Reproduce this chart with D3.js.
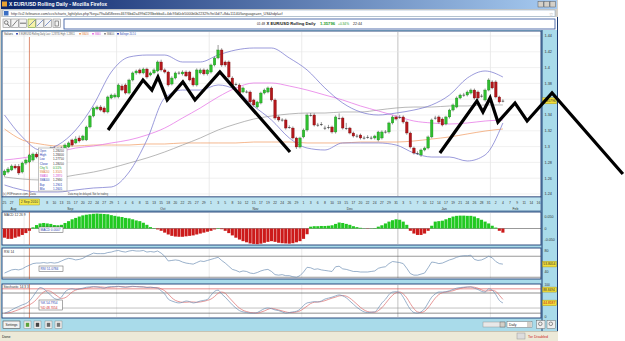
<!DOCTYPE html>
<html>
<head>
<meta charset="utf-8">
<script src="https://cdn.jsdelivr.net/npm/d3@7"></script>
<style>
body{margin:0;background:#fff;overflow:hidden}
svg{display:block;font-family:"Liberation Sans",Arial,sans-serif}
</style>
</head>
<body>
<svg id="chart" width="625" height="341"></svg>
<script>
// ---- data ----
// one candle per trading slot (Sunday sessions included), starting 25 Aug 2010
const candles = [ // [open, high, low, close]
[1.2641,1.2710,1.2620,1.2691],[1.2678,1.2740,1.2660,1.2716],[1.2704,1.2775,1.2690,1.2754],[1.2754,1.2780,1.2710,1.2729],
[1.2750,1.2780,1.2640,1.2666],[1.2678,1.2810,1.2660,1.2792],[1.2792,1.2850,1.2770,1.2830],[1.2805,1.2910,1.2790,1.2894],
[1.2830,1.2925,1.2810,1.2906],[1.2906,1.2930,1.2850,1.2868],[1.2881,1.2950,1.2860,1.2932],[1.2932,1.2955,1.2875,1.2894],
[1.2919,1.2975,1.2900,1.2957],[1.2945,1.3000,1.2930,1.2982],[1.2982,1.3000,1.2915,1.2932],[1.2945,1.2990,1.2930,1.2970],
[1.2982,1.3000,1.2940,1.2957],[1.2982,1.3040,1.2965,1.3020],[1.2995,1.3065,1.2980,1.3046],[1.3084,1.3100,1.3000,1.3020],
[1.3046,1.3130,1.3030,1.3096],[1.3109,1.3140,1.3050,1.3071],[1.3084,1.3150,1.3070,1.3134],[1.3084,1.3265,1.3070,1.3248],
[1.3248,1.3400,1.3230,1.3387],[1.3387,1.3505,1.3370,1.3489],[1.3476,1.3520,1.3460,1.3501],[1.3501,1.3525,1.3445,1.3463],
[1.3489,1.3510,1.3420,1.3438],[1.3438,1.3645,1.3420,1.3628],[1.3615,1.3670,1.3600,1.3653],[1.3628,1.3675,1.3610,1.3653],
[1.3628,1.3800,1.3610,1.3780],[1.3767,1.3790,1.3700,1.3716],[1.3780,1.3800,1.3660,1.3678],[1.3678,1.3860,1.3660,1.3843],
[1.3843,1.3950,1.3825,1.3932],[1.3932,1.3975,1.3910,1.3957],[1.3970,1.3990,1.3915,1.3932],[1.3932,1.4000,1.3915,1.3982],
[1.3982,1.4000,1.3860,1.3881],[1.3906,1.3950,1.3890,1.3932],[1.3932,1.3990,1.3915,1.3970],[1.3957,1.4090,1.3940,1.4071],
[1.4071,1.4100,1.3950,1.3970],[1.3970,1.3990,1.3925,1.3944],[1.3944,1.3960,1.3760,1.3780],[1.3792,1.3890,1.3775,1.3868],
[1.3868,1.3950,1.3850,1.3932],[1.3932,1.3955,1.3910,1.3935],[1.3920,1.3965,1.3900,1.3944],[1.3944,1.3965,1.3880,1.3894],
[1.3944,1.3960,1.3825,1.3843],[1.3868,1.3885,1.3760,1.3780],[1.3780,1.3990,1.3760,1.3970],[1.3932,1.3990,1.3915,1.3970],
[1.3970,1.3990,1.3900,1.3920],[1.3920,1.3985,1.3900,1.3970],[1.3944,1.4050,1.3925,1.4033],[1.4033,1.4140,1.4015,1.4122],
[1.4122,1.4286,1.4105,1.4223],[1.4223,1.4245,1.4010,1.4033],[1.4071,1.4090,1.4010,1.4033],[1.4071,1.4090,1.3860,1.3881],
[1.3868,1.3890,1.3760,1.3780],[1.3792,1.3810,1.3770,1.3788],[1.3780,1.3800,1.3660,1.3678],[1.3691,1.3760,1.3675,1.3742],
[1.3691,1.3715,1.3675,1.3695],[1.3691,1.3710,1.3545,1.3565],[1.3590,1.3605,1.3505,1.3527],[1.3501,1.3580,1.3485,1.3565],
[1.3552,1.3695,1.3535,1.3678],[1.3678,1.3735,1.3660,1.3716],[1.3691,1.3760,1.3675,1.3742],[1.3742,1.3760,1.3570,1.3590],
[1.3590,1.3610,1.3340,1.3362],[1.3375,1.3395,1.3315,1.3337],[1.3337,1.3360,1.3315,1.3340],[1.3337,1.3355,1.3215,1.3235],
[1.3248,1.3270,1.3225,1.3245],[1.3235,1.3255,1.3090,1.3109],[1.3109,1.3125,1.2970,1.2995],[1.2995,1.3125,1.2975,1.3109],
[1.3122,1.3230,1.3105,1.3210],[1.3210,1.3420,1.3190,1.3400],[1.3400,1.3425,1.3380,1.3397],[1.3400,1.3420,1.3255,1.3273],
[1.3273,1.3300,1.3250,1.3276],[1.3286,1.3310,1.3260,1.3283],[1.3235,1.3265,1.3210,1.3238],[1.3248,1.3275,1.3220,1.3245],
[1.3248,1.3265,1.3165,1.3185],[1.3185,1.3395,1.3165,1.3375],[1.3362,1.3420,1.3340,1.3360],[1.3362,1.3380,1.3215,1.3235],
[1.3235,1.3300,1.3210,1.3232],[1.3235,1.3250,1.3155,1.3172],[1.3172,1.3190,1.3115,1.3134],[1.3134,1.3160,1.3110,1.3137],
[1.3147,1.3165,1.3090,1.3109],[1.3109,1.3135,1.3090,1.3112],[1.3122,1.3145,1.3100,1.3119],[1.3109,1.3135,1.3090,1.3112],
[1.3109,1.3150,1.3090,1.3134],[1.3084,1.3200,1.3065,1.3185],[1.3109,1.3205,1.3090,1.3185],[1.3185,1.3210,1.3165,1.3188],
[1.3185,1.3315,1.3165,1.3299],[1.3299,1.3395,1.3280,1.3375],[1.3375,1.3395,1.3330,1.3349],[1.3375,1.3400,1.3350,1.3372],
[1.3375,1.3395,1.3290,1.3311],[1.3311,1.3330,1.3150,1.3172],[1.3172,1.3190,1.2975,1.2995],[1.2982,1.3000,1.2900,1.2919],
[1.2919,1.2940,1.2895,1.2916],[1.2894,1.2975,1.2870,1.2957],[1.2957,1.3000,1.2940,1.2982],[1.2982,1.3140,1.2965,1.3122],
[1.3122,1.3355,1.3105,1.3337],[1.3362,1.3390,1.3340,1.3365],[1.3375,1.3395,1.3290,1.3311],[1.3349,1.3370,1.3255,1.3273],
[1.3286,1.3390,1.3270,1.3375],[1.3375,1.3480,1.3355,1.3463],[1.3463,1.3545,1.3445,1.3527],[1.3501,1.3635,1.3485,1.3615],
[1.3615,1.3670,1.3600,1.3653],[1.3653,1.3680,1.3630,1.3656],[1.3653,1.3710,1.3635,1.3691],[1.3678,1.3735,1.3660,1.3716],
[1.3716,1.3735,1.3595,1.3615],[1.3691,1.3710,1.3595,1.3615],[1.3640,1.3665,1.3620,1.3643],[1.3590,1.3735,1.3570,1.3716],
[1.3716,1.3865,1.3700,1.3843],[1.3818,1.3840,1.3725,1.3742],[1.3818,1.3840,1.3610,1.3628],[1.3628,1.3645,1.3545,1.3565],
[1.3577,1.3600,1.3560,1.3580]
];

// overlays sampled every 5 slots
const overlaySlots = [0,5,10,15,20,25,30,35,40,45,50,55,60,65,70,75,80,85,90,95,100,105,110,115,120,125,130,135,140];
const bbUpper = [1.3400,1.3122,1.2957,1.3020,1.3210,1.3527,1.3944,1.4134,1.4159,1.4159,1.4071,1.4071,1.4159,1.4223,1.4248,1.4248,1.4122,1.3970,1.3742,1.3552,1.3438,1.3400,1.3425,1.3463,1.3527,1.3653,1.3868,1.3957,1.3881];
const bbLower = [1.2514,1.2451,1.2425,1.2425,1.2451,1.2476,1.2489,1.2678,1.3084,1.3615,1.3716,1.3716,1.3780,1.3716,1.3514,1.3337,1.3109,1.2982,1.2957,1.3046,1.3046,1.3046,1.3020,1.2919,1.2868,1.2868,1.2818,1.2894,1.3299];
const sma50  = [1.2830,1.2856,1.2894,1.2932,1.2982,1.3008,1.3046,1.3084,1.3147,1.3235,1.3362,1.3489,1.3628,1.3742,1.3805,1.3805,1.3767,1.3716,1.3653,1.3590,1.3514,1.3451,1.3387,1.3324,1.3299,1.3286,1.3299,1.3324,1.3337];
const sma100 = [1.2615,1.2590,1.2577,1.2603,1.2641,1.2678,1.2729,1.2792,1.2856,1.2932,1.3020,1.3109,1.3210,1.3286,1.3349,1.3387,1.3413,1.3425,1.3425,1.3438,1.3438,1.3463,1.3489,1.3501,1.3501,1.3514,1.3514,1.3527,1.3527];
const sma200 = [1.3223,1.3084,1.3033,1.3008,1.3008,1.3020,1.3020,1.3020,1.3033,1.3033,1.3046,1.3046,1.3046,1.3046,1.3058,1.3058,1.3058,1.3046,1.3046,1.3046,1.3058,1.3058,1.3058,1.3071,1.3096,1.3122,1.3160,1.3197,1.3223];

// MACD histogram, one per slot
const macdHist = [-0.040,-0.045,-0.045,-0.040,-0.035,-0.028,-0.020,-0.010,0.005,0.015,0.022,0.024,0.022,0.020,0.015,0.014,0.016,0.024,0.032,0.040,
0.046,0.052,0.057,0.060,0.062,0.064,0.065,0.064,0.063,0.062,0.058,0.055,0.052,0.050,0.046,0.044,0.040,0.035,0.032,0.025,
0.016,0.006,0.002,-0.004,-0.010,-0.018,-0.026,-0.032,-0.035,-0.036,-0.036,-0.034,-0.032,-0.030,-0.026,-0.022,-0.018,-0.014,-0.010,-0.004,
0.002,-0.003,-0.010,-0.020,-0.030,-0.040,-0.048,-0.055,-0.060,-0.065,-0.067,-0.068,-0.066,-0.062,-0.058,-0.055,-0.058,-0.062,-0.064,-0.065,
-0.066,-0.064,-0.060,-0.055,-0.045,-0.025,0.008,0.010,0.010,0.011,0.011,0.012,0.014,0.020,0.026,0.024,0.020,0.016,0.010,0.006,
0.003,0.001,-0.001,0.001,0.002,0.008,0.014,0.022,0.030,0.036,0.040,0.038,0.030,0.016,-0.010,-0.022,-0.028,-0.028,-0.022,-0.010,
0.012,0.030,0.032,0.034,0.040,0.046,0.052,0.055,0.056,0.056,0.055,0.055,0.052,0.045,0.038,0.030,0.022,0.012,0.004,-0.010,-0.018];

const rsi = [38,41,44,45,44,46,50,53,56,57,57,58,57,58,57,58,61,64,66,65,63,64,66,70,73,76,75,75,75,77,
78,80,81,79,78,80,81,80,80,81,78,79,78,80,76,70,61,62,63,62,59,57,56,55,58,61,60,62,64,66,
68,62,57,51,45,43,40,42,41,38,37,39,42,44,45,41,35,34,35,33,33,31,30,33,40,49,48,45,46,44,
43,42,41,50,51,46,45,43,41,41,40,40,40,41,42,47,49,50,56,60,59,58,56,47,37,34,34,36,38,48,
59,58,56,57,60,63,65,68,70,71,71,72,64,62,63,66,70,67,60,56,55];

const stochK = [12,16,22,28,33,38,42,50,64,80,92,88,78,68,58,55,62,78,86,88,86,88,90,93,94,95,94,92,90,94,
95,95,96,94,93,95,96,95,94,94,92,93,92,90,82,72,56,50,46,44,46,50,48,44,46,50,52,55,68,80,
84,72,62,50,38,28,20,16,14,12,12,14,20,26,28,26,22,20,16,12,14,16,18,24,36,44,46,48,47,50,
56,59,62,66,69,66,60,50,40,30,22,16,14,15,16,28,44,55,70,78,79,76,62,42,24,14,12,16,26,44,
62,72,78,78,79,82,86,90,92,93,94,94,90,86,80,78,88,84,70,52,44];
const stochD = [12,13,15,19,23,28,33,38,45,55,68,78,82,80,72,64,58,60,68,78,84,87,88,90,92,94,94,94,93,92,
93,94,95,95,94,94,95,95,95,94,93,93,92,92,88,82,72,60,52,48,46,46,47,47,46,47,49,52,56,64,
74,78,74,62,50,38,28,21,17,14,13,12,15,19,24,27,25,22,19,16,14,14,16,19,26,34,42,46,47,48,
51,55,59,62,66,67,65,59,50,40,30,22,17,15,15,20,29,42,56,68,76,78,72,60,42,26,16,14,18,29,
44,59,70,76,78,80,82,86,89,92,93,94,93,90,85,81,82,83,80,68,55];

// hand-drawn annotation: [slot, price]
const zigA = [[29.1,1.3210],[38.9,1.3843],[41.4,1.3716],[43.1,1.3881],[45.7,1.3590],[50.1,1.3818],[53.5,1.3590],[60.5,1.3944],[80.2,1.2932]];
const zigB = [[122.3,1.2919],[132.7,1.3577],[134.4,1.3438],[136.4,1.3615],[138.6,1.3311],[143.4,1.3552],[146.8,1.3324],[153.8,1.3678],[173.7,1.2653]];

const priceTicks = [1.24,1.26,1.28,1.30,1.32,1.34,1.36,1.38,1.40,1.42,1.44];
const lastPrice = 1.35796;
const crossSlot = 7;

// ---- layout ----
const svg = d3.select("#chart");
const L = 2, R = 541;
const P = {top:31, bot:197};
const AX = {top:197, bot:211};
const M = {top:212, bot:245};
const RS = {top:248, bot:279};
const ST = {top:284, bot:318};

const slotDates = d3.timeDay.range(new Date(2010,7,25), new Date(2011,1,22)).filter(d => d.getDay() !== 6);
const x = d3.scaleLinear().domain([0,150]).range([4.5,538.5]);
const y = d3.scaleLinear().domain([1.24,1.44]).range([194,36]);
const ym = d3.scaleLinear().domain([-0.05,0.05]).range([240,217]);
const yr = d3.scaleLinear().domain([40,80]).range([272,251]);
const ys = d3.scaleLinear().domain([0,100]).range([317,285]);

const defs = svg.append("defs");
const tg = defs.append("linearGradient").attr("id","tb");
tg.append("stop").attr("offset","0").attr("stop-color","#0a246a");
tg.append("stop").attr("offset","1").attr("stop-color","#a6caf0");
[["cp",P],["cm",M],["cr",RS],["cs",ST]].forEach(([id,p]) => {
	defs.append("clipPath").attr("id",id).append("rect")
		.attr("x",L).attr("y",p.top).attr("width",R-L).attr("height",p.bot-p.top);
});

// window chrome
svg.append("rect").attr("x",0).attr("y",0).attr("width",558).attr("height",341).attr("fill","#d4d0c8");
svg.append("rect").attr("x",1).attr("y",0).attr("width",556).attr("height",9).attr("fill","url(#tb)");
svg.append("rect").attr("x",2).attr("y",1.5).attr("width",5).attr("height",5).attr("fill","#e8a030");
svg.append("text").attr("x",9).attr("y",6.4).attr("font-size",5).attr("font-weight","bold").attr("fill","#fff")
	.text("X EUR/USD Rolling Daily - Mozilla Firefox");
[538,544,550].forEach(bx => svg.append("rect").attr("x",bx).attr("y",1.5).attr("width",5.5).attr("height",5.5)
	.attr("fill","#d4d0c8").attr("stroke","#404040").attr("stroke-width",0.4));
svg.append("rect").attr("x",3).attr("y",10).attr("width",552).attr("height",6.5).attr("fill","#fff").attr("stroke","#7f9db9").attr("stroke-width",0.5);
svg.append("rect").attr("x",4).attr("y",11).attr("width",4.5).attr("height",4.5).attr("fill","#3a6fc4");
svg.append("text").attr("x",11).attr("y",15).attr("font-size",3.6).attr("fill","#333")
	.text("http://ci2.fxfinance.com/ccs/tcharts_light/plus.php?key=79a4d58eeec467/6bd2a499d22f3bebba6+4dc93d0cb5000b0b22329c9e/4d/7+8d=11140/language=en_US&hdpl=cf");
svg.append("text").attr("x",549).attr("y",15.5).attr("font-size",5).attr("fill","#999").text("☆");

// applet background
svg.append("rect").attr("x",1).attr("y",17).attr("width",557).attr("height",314).attr("fill","#a9dbea");
svg.append("rect").attr("x",1).attr("y",17).attr("width",557).attr("height",13).attr("fill","#fff");
const icons = [3,11,19,28,36,44,53];
icons.forEach((ix,i) => {
	svg.append("rect").attr("x",ix).attr("y",19).attr("width",7.5).attr("height",8.5)
		.attr("fill",i===3 ? "#f7f2a8" : "#f4f4f4").attr("stroke",i===3 ? "#6a9a30" : "#8a8a8a").attr("stroke-width",0.6);
});
svg.append("circle").attr("cx",6.2).attr("cy",22.5).attr("r",1.8).attr("fill","none").attr("stroke","#333").attr("stroke-width",0.6);
svg.append("line").attr("x1",7.5).attr("y1",24).attr("x2",9.5).attr("y2",26.5).attr("stroke","#333").attr("stroke-width",0.8);
svg.append("line").attr("x1",12).attr("y1",26.5).attr("x2",17.5).attr("y2",20).attr("stroke","#333").attr("stroke-width",0.6);
svg.append("line").attr("x1",20).attr("y1",23.2).attr("x2",26).attr("y2",23.2).attr("stroke","#333").attr("stroke-width",0.7);
svg.append("line").attr("x1",29).attr("y1",26).attr("x2",35).attr("y2",20).attr("stroke","#3355aa").attr("stroke-width",0.6);
svg.append("line").attr("x1",37).attr("y1",26).attr("x2",43).attr("y2",20).attr("stroke","#3355aa").attr("stroke-width",0.6);
svg.append("line").attr("x1",45).attr("y1",26).attr("x2",51).attr("y2",20).attr("stroke","#3355aa").attr("stroke-width",0.6);
svg.append("rect").attr("x",55).attr("y",21).attr("width",3.5).attr("height",5).attr("fill","none").attr("stroke","#333").attr("stroke-width",0.5);
svg.append("rect").attr("x",64).attr("y",19).attr("width",491).attr("height",10).attr("fill","#fff").attr("stroke","#2b4f9a").attr("stroke-width",0.8);
svg.append("text").attr("x",257).attr("y",25.3).attr("font-size",4.2).attr("fill","#222")
	.attr("textLength",8).attr("lengthAdjust","spacingAndGlyphs").text("01:48");
svg.append("text").attr("x",266.5).attr("y",25.3).attr("font-size",4.2).attr("font-weight","bold").attr("fill","#111")
	.attr("textLength",49).attr("lengthAdjust","spacingAndGlyphs").text("X EUR/USD Rolling Daily");
svg.append("text").attr("x",320).attr("y",25.3).attr("font-size",4.2).attr("font-weight","bold").attr("fill","#1a9a1a")
	.attr("textLength",15).attr("lengthAdjust","spacingAndGlyphs").text("1.35796");
svg.append("text").attr("x",338).attr("y",25.3).attr("font-size",4.2).attr("fill","#1a9a1a")
	.attr("textLength",11).attr("lengthAdjust","spacingAndGlyphs").text("+0.34%");
svg.append("text").attr("x",353).attr("y",25.3).attr("font-size",4.2).attr("fill","#222")
	.attr("textLength",9).attr("lengthAdjust","spacingAndGlyphs").text("22:44");

// panels
[P,M,RS,ST].forEach(p => svg.append("rect").attr("x",L).attr("y",p.top).attr("width",R-L).attr("height",p.bot-p.top)
	.attr("fill","#fff").attr("stroke","#1b3a72").attr("stroke-width",0.9));
svg.append("rect").attr("x",L).attr("y",AX.top).attr("width",R-L).attr("height",AX.bot-AX.top)
	.attr("fill","#bfe4f0").attr("stroke","#1b3a72").attr("stroke-width",0.6);
svg.append("line").attr("x1",542).attr("x2",542).attr("y1",30).attr("y2",331).attr("stroke","#1b3a72").attr("stroke-width",1);
svg.append("line").attr("x1",557.5).attr("x2",557.5).attr("y1",17).attr("y2",331).attr("stroke","#1b3a72").attr("stroke-width",1);

// month boundaries
const monthStarts = [];
slotDates.forEach((d,i) => { if (i > 0 && d.getMonth() !== slotDates[i-1].getMonth()) monthStarts.push(i); });
[P,M,RS,ST].forEach(p => {
	svg.append("g").selectAll("line").data(monthStarts).join("line")
		.attr("x1",i => x(i-0.5)).attr("x2",i => x(i-0.5)).attr("y1",p.top+1).attr("y2",p.bot-1)
		.attr("stroke",i => slotDates[i].getMonth() === 0 ? "#a8a8a8" : "#e2e2e2").attr("stroke-width",0.7);
});

// price grid and axis
svg.append("g").selectAll("line").data(priceTicks).join("line")
	.attr("x1",L+1).attr("x2",R-1).attr("y1",d => y(d)).attr("y2",d => y(d))
	.attr("stroke","#e6e6e6").attr("stroke-width",0.6);
const fmt = d => (+d.toFixed(2)).toString();
svg.append("g").selectAll("text").data(priceTicks.filter(d => Math.abs(y(d)-y(lastPrice)) > 4)).join("text")
	.attr("x",544.5).attr("y",d => y(d)+1.3).attr("font-size",3.8).attr("fill","#333").text(fmt);

// crosshair
svg.append("line").attr("x1",x(crossSlot)).attr("x2",x(crossSlot)).attr("y1",37).attr("y2",AX.top)
	.attr("stroke","#d0603a").attr("stroke-width",0.7);
[M,RS,ST].forEach(p => svg.append("line").attr("x1",x(crossSlot)).attr("x2",x(crossSlot)).attr("y1",p.top).attr("y2",p.bot)
	.attr("stroke","#d0603a").attr("stroke-width",0.7));

// overlays
const pg = svg.append("g").attr("clip-path","url(#cp)");
const ovLine = vals => d3.line().curve(d3.curveMonotoneX).x((d,i) => x(overlaySlots[i])).y(d => y(d))(vals);
[[sma200,"#f09a5e"],[sma100,"#9a9a9a"],[sma50,"#e46ae4"],[bbUpper,"#7070cc"],[bbLower,"#7070cc"]].forEach(([v,c]) => {
	pg.append("path").attr("d",ovLine(v)).attr("fill","none").attr("stroke",c).attr("stroke-width",0.7);
});

// candles
const cg = pg.append("g");
cg.selectAll("line").data(candles).join("line")
	.attr("x1",(d,i) => x(i)).attr("x2",(d,i) => x(i)).attr("y1",d => y(d[1])).attr("y2",d => y(d[2]))
	.attr("stroke","#555").attr("stroke-width",0.6);
cg.selectAll("rect").data(candles).join("rect")
	.attr("x",(d,i) => x(i)-1.3).attr("width",2.6)
	.attr("y",d => y(Math.max(d[0],d[3])))
	.attr("height",d => Math.max(0.7, Math.abs(y(d[0])-y(d[3]))))
	.attr("fill",d => Math.abs(d[0]-d[3]) < 0.0006 ? "#333" : (d[3] > d[0] ? "#2fbf2f" : "#b3171b"))
	.attr("stroke",d => Math.abs(d[0]-d[3]) < 0.0006 ? "none" : (d[3] > d[0] ? "#1d7d1d" : "#6e0d0d"))
	.attr("stroke-width",0.3);

// legend row
svg.append("text").attr("x",4).attr("y",35.2).attr("font-size",3).attr("fill","#333")
	.attr("textLength",9).attr("lengthAdjust","spacingAndGlyphs").text("Values");
const legendItems = [[16,"#2a3fb0","X EUR/USD Rolling Daily    Last: 1.28735 High: 1.28911","#555",56],
	[79,"#f09a5e","SMA200","#e07a3a",7],[92,"#e46ae4","SMA50","#d040d0",6],[104,"#888","SMA100","#555",7.5],[117,"#2a3fb0","Bollinger 20 2.0","#2a3fb0",16]];
legendItems.forEach(([lx,c,t,tc,w]) => {
	svg.append("rect").attr("x",lx).attr("y",33.1).attr("width",2).attr("height",1.4).attr("fill",c);
	svg.append("text").attr("x",lx+2.8).attr("y",35.2).attr("font-size",2.6).attr("fill",tc)
		.attr("textLength",w).attr("lengthAdjust","spacingAndGlyphs").text(t);
});

// info box
const info = [["Open","1.28050","#333"],["High","1.28400","#333"],["Low","1.27750","#333"],["Close","1.28050","#333"],
	["Chg %","0.51%","#1a9a1a"],["SMA200","1.3105","#e07a3a"],["SMA50","1.2870","#d040d0"],["SMA100","1.2930","#333"],
	["Bup","1.2901","#2a3fb0"],["Blo","1.2605","#2a3fb0"]];
svg.append("rect").attr("x",38.5).attr("y",148).attr("width",28.5).attr("height",43).attr("fill","#fff")
	.attr("stroke","#888").attr("stroke-width",0.5);
info.forEach(([k,v,c],i) => {
	svg.append("text").attr("x",39.8).attr("y",152+i*4.2).attr("font-size",3).attr("fill",c === "#333" ? "#2a3fb0" : c)
		.attr("textLength",Math.min(10,k.length*1.6)).attr("lengthAdjust","spacingAndGlyphs").text(k);
	svg.append("text").attr("x",53).attr("y",152+i*4.2).attr("font-size",3).attr("fill",c).text(v);
});
svg.append("text").attr("x",3).attr("y",194.5).attr("font-size",3).attr("fill","#444")
	.attr("textLength",33).attr("lengthAdjust","spacingAndGlyphs").text("(c) FXFinance.com, Data");
svg.append("text").attr("x",68).attr("y",194.5).attr("font-size",3).attr("fill","#444")
	.attr("textLength",40).attr("lengthAdjust","spacingAndGlyphs").text("Data may be delayed. Not for trading");

// last price marker
svg.append("rect").attr("x",542.5).attr("y",y(lastPrice)-3).attr("width",14).attr("height",6)
	.attr("fill","#f2de3a").attr("stroke","#9a8a10").attr("stroke-width",0.4);
svg.append("text").attr("x",543.5).attr("y",y(lastPrice)+1.2).attr("font-size",3.4).attr("fill","#333").text("1.35796");

// annotation zigzags
const zl = d3.line().x(d => x(d[0])).y(d => y(d[1]));
[zigA,zigB].forEach(z => svg.append("path").attr("d",zl(z)).attr("fill","none").attr("stroke","#000")
	.attr("stroke-width",3.2).attr("stroke-linejoin","miter").attr("stroke-linecap","butt"));

// date axis
const boxL = x(crossSlot)-10, boxR = x(crossSlot)+10;
const dayIdx = d3.range(0,151,2).filter(i => i < slotDates.length && (x(i)+3 < boxL || x(i)-3 > boxR));
svg.append("g").selectAll("text").data(dayIdx).join("text")
	.attr("x",i => x(i)).attr("y",203.5).attr("text-anchor","middle").attr("font-size",3.4).attr("fill","#333")
	.text(i => slotDates[i].getDate());
const months = d3.groups(d3.range(0,151).filter(i => i < slotDates.length), i => d3.timeFormat("%b")(slotDates[i]));
svg.append("g").selectAll("text").data(months).join("text")
	.attr("x",d => x(d3.mean(d[1]))).attr("y",209.5).attr("text-anchor","middle").attr("font-size",3.4).attr("fill","#333")
	.text(d => d[0]);
svg.append("rect").attr("x",boxL).attr("y",199).attr("width",20).attr("height",6)
	.attr("fill","#f2e84a").attr("stroke","#9a8a10").attr("stroke-width",0.4);
svg.append("text").attr("x",x(crossSlot)).attr("y",203.3).attr("text-anchor","middle").attr("font-size",3.4).attr("fill","#333").text("2 Sep 2010");

// MACD
const mg = svg.append("g").attr("clip-path","url(#cm)");
mg.append("line").attr("x1",L).attr("x2",R).attr("y1",ym(0)).attr("y2",ym(0)).attr("stroke","#333").attr("stroke-width",0.5);
mg.selectAll("rect").data(macdHist).join("rect")
	.attr("x",(d,i) => x(i)-1.55).attr("width",3.1)
	.attr("y",d => d >= 0 ? ym(d) : ym(0)).attr("height",d => Math.abs(ym(d)-ym(0)))
	.attr("fill",d => d >= 0 ? "#22c922" : "#cc1a1a");
svg.append("text").attr("x",4).attr("y",216).attr("font-size",3.3).attr("fill","#333").text("MACD 12 26 9");
svg.append("rect").attr("x",39).attr("y",227).attr("width",24).attr("height",5.5).attr("fill","#fff").attr("stroke","#555").attr("stroke-width",0.5);
svg.append("text").attr("x",40.5).attr("y",231).attr("font-size",3.2).attr("fill","#2a3fb0").text("MACD 0.0007");
[[0.05,"0.050"],[0,"0"],[-0.05,"-0.050"]].forEach(([v,t]) => svg.append("text").attr("x",544.5).attr("y",ym(v)+1.2)
	.attr("font-size",3.6).attr("fill","#333").text(t));

// RSI
const rg = svg.append("g").attr("clip-path","url(#cr)");
[70,30].forEach(v => rg.append("line").attr("x1",L).attr("x2",R).attr("y1",yr(v)).attr("y2",yr(v)).attr("stroke","#555").attr("stroke-width",0.6));
rg.append("path").attr("d",d3.line().x((d,i) => x(i)).y(d => yr(d))(rsi)).attr("fill","none").attr("stroke","#6f8fb5").attr("stroke-width",0.7);
svg.append("text").attr("x",4).attr("y",252.5).attr("font-size",3.3).attr("fill","#333").text("RSI 14");
svg.append("rect").attr("x",39).attr("y",266).attr("width",24).attr("height",5.5).attr("fill","#fff").attr("stroke","#555").attr("stroke-width",0.5);
svg.append("text").attr("x",40.5).attr("y",270).attr("font-size",3.2).attr("fill","#2a3fb0").text("RSI 51.0784");
const rsiLast = rsi[rsi.length-1];
[80,60,40].filter(v => Math.abs(yr(v)-yr(rsiLast)) > 4).forEach(v => svg.append("text").attr("x",544.5).attr("y",yr(v)+1.2).attr("font-size",3.6).attr("fill","#333").text(v));
svg.append("rect").attr("x",542.5).attr("y",yr(rsiLast)-2.8).attr("width",14).attr("height",5.6)
	.attr("fill","#f2de3a").attr("stroke","#9a8a10").attr("stroke-width",0.4);
svg.append("text").attr("x",543.3).attr("y",yr(rsiLast)+1.2).attr("font-size",3.3).attr("fill","#333").text("53.8054");

// Stochastic
const sg = svg.append("g").attr("clip-path","url(#cs)");
sg.append("line").attr("x1",L).attr("x2",R).attr("y1",ys(88)).attr("y2",ys(88)).attr("stroke","#d84040").attr("stroke-width",0.6);
[[75,"#444"],[28,"#999"],[12,"#444"]].forEach(([v,c]) => sg.append("line").attr("x1",L).attr("x2",R).attr("y1",ys(v)).attr("y2",ys(v)).attr("stroke",c).attr("stroke-width",0.6));
sg.append("path").attr("d",d3.line().curve(d3.curveMonotoneX).x((d,i) => x(i)).y(d => ys(d))(stochD)).attr("fill","none").attr("stroke","#dd6b6b").attr("stroke-width",0.7);
sg.append("path").attr("d",d3.line().curve(d3.curveMonotoneX).x((d,i) => x(i)).y(d => ys(d))(stochK)).attr("fill","none").attr("stroke","#6f8fb5").attr("stroke-width",0.7);
svg.append("text").attr("x",3.5).attr("y",288).attr("font-size",3.3).attr("fill","#333").text("Stochastic 14 3 3");
svg.append("rect").attr("x",39).attr("y",300).attr("width",23.5).attr("height",10).attr("fill","#fff").attr("stroke","#555").attr("stroke-width",0.5);
svg.append("text").attr("x",40.5).attr("y",304).attr("font-size",3.1).attr("fill","#2a3fb0").text("%K 54.7954");
svg.append("text").attr("x",40.5).attr("y",308.5).attr("font-size",3.1).attr("fill","#cc2222").text("%D 48.7054");
svg.append("text").attr("x",544.5).attr("y",ys(100)+0.8).attr("font-size",3.2).attr("fill","#333").text("100");
svg.append("text").attr("x",544.5).attr("y",ys(0)+1.2).attr("font-size",3.6).attr("fill","#333").text("0");
svg.append("rect").attr("x",542.5).attr("y",ys(86)-2.4).attr("width",14).attr("height",5).attr("fill","#f2de3a").attr("stroke","#9a8a10").attr("stroke-width",0.4);
svg.append("text").attr("x",543.3).attr("y",ys(86)+1.2).attr("font-size",3.2).attr("fill","#333").text("88.8494");
svg.append("rect").attr("x",542.5).attr("y",ys(stochK[stochK.length-1])-2.8).attr("width",14).attr("height",5.6).attr("fill","#f2de3a").attr("stroke","#9a8a10").attr("stroke-width",0.4);
svg.append("text").attr("x",543.3).attr("y",ys(stochK[stochK.length-1])+1.2).attr("font-size",3.3).attr("fill","#c02020").text("44.8187");

// bottom toolbar
svg.append("rect").attr("x",3).attr("y",321).attr("width",17).attr("height",7.5).attr("fill","#f2f2f2").attr("stroke","#333").attr("stroke-width",0.5);
svg.append("text").attr("x",11.5).attr("y",326).attr("text-anchor","middle").attr("font-size",3.3).attr("fill","#222").text("Settings");
[[24,"#5aa33a"],[34,"#444"],[45,"#666"],[55,"#777"]].forEach(([bx,c]) => {
	svg.append("rect").attr("x",bx).attr("y",321).attr("width",7).attr("height",7.5).attr("fill","#eee").attr("stroke","#777").attr("stroke-width",0.4);
	svg.append("rect").attr("x",bx+1.8).attr("y",322.8).attr("width",3.4).attr("height",4).attr("fill",c);
});
svg.append("rect").attr("x",483).attr("y",322).attr("width",22).attr("height",5).attr("fill","#e8e8e8").attr("stroke","#888").attr("stroke-width",0.4);
svg.append("rect").attr("x",500).attr("y",322).attr("width",5).attr("height",5).attr("fill","#d4d0c8").attr("stroke","#555").attr("stroke-width",0.4);
svg.append("rect").attr("x",507).attr("y",321.5).attr("width",25).attr("height",6).attr("fill","#fff").attr("stroke","#555").attr("stroke-width",0.4);
svg.append("text").attr("x",509).attr("y",325.8).attr("font-size",3.4).attr("fill","#222").text("Daily");
svg.append("rect").attr("x",527).attr("y",322).attr("width",4.5).attr("height",5).attr("fill","#d4d0c8");
[536.5,547].forEach(bx => {
	svg.append("rect").attr("x",bx).attr("y",320.5).attr("width",8.5).attr("height",8).attr("fill","#eee").attr("stroke","#555").attr("stroke-width",0.4);
	svg.append("circle").attr("cx",bx+3.8).attr("cy",323.8).attr("r",1.8).attr("fill","none").attr("stroke","#333").attr("stroke-width",0.5);
});

// status bar
svg.append("rect").attr("x",0).attr("y",331).attr("width",558).attr("height",10).attr("fill","#ece9d8");
svg.append("line").attr("x1",0).attr("x2",558).attr("y1",331.5).attr("y2",331.5).attr("stroke","#aca899").attr("stroke-width",0.6);
svg.append("text").attr("x",2).attr("y",337.5).attr("font-size",3.6).attr("fill","#222").text("Done");
svg.append("rect").attr("x",517).attr("y",333).attr("width",8).attr("height",6).attr("fill","#ddd").attr("stroke","#888").attr("stroke-width",0.4);
svg.append("text").attr("x",528).attr("y",337.5).attr("font-size",3.6).attr("fill","#cc2222").text("Tor Disabled");
</script>
</body>
</html>
